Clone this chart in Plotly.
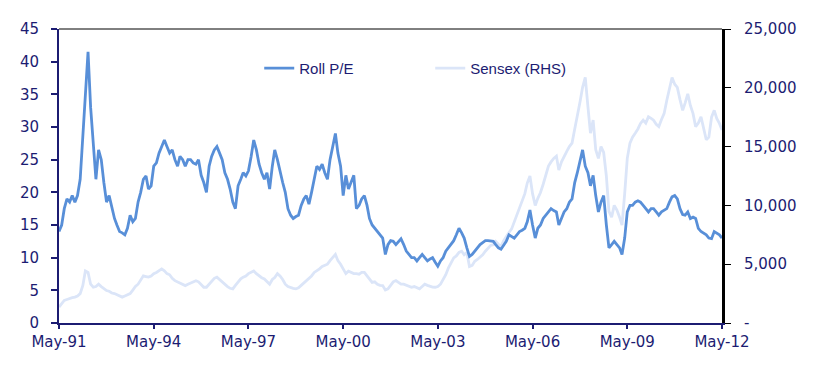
import pandas as pd
import plotly.graph_objects as go

# Monthly observations, May-1991 .. May-2012
start_month = "1991-05-01"
n_months = 253
dates = pd.date_range(start_month, periods=n_months, freq="MS")

roll_pe = [
    14, 15, 17.5, 19, 18.5, 19.5, 18.5, 19.5, 22, 29, 35, 41.5,
    33, 27, 22, 26.5, 25, 21.5, 18.5, 19.5, 17.5, 16, 15, 14,
    13.8, 13.5, 14.5, 16.5, 15.5, 16, 18.5, 20, 22, 22.5, 20.5, 21,
    24, 24.5, 26, 27, 28, 27, 26, 26.5, 25, 24, 25.5, 25,
    24, 25, 25, 24.5, 24.3, 25, 22.6, 21.5, 20, 24, 25.5, 26.5,
    27, 26, 25, 23, 22, 20.5, 18.5, 17.5, 21, 22, 23, 22.5,
    23.3, 25.5, 28, 26.5, 24.3, 23, 22, 23, 20.5, 24, 26.5, 25,
    23, 21.5, 20, 17.5, 16.5, 16, 16.3, 16.5, 18, 19, 19.5, 18.2,
    20, 22, 24, 23.5, 24.3, 23, 22, 25, 27, 29, 26, 24,
    19.5, 22.6, 20.5, 21.5, 22.6, 17.5, 18, 19, 19.5, 18, 16, 15,
    14.5, 14, 13.5, 13, 10.5, 12, 12.6, 12.5, 12, 12.5, 12.9, 12,
    11, 10.5, 10, 10, 9.5, 10, 10.5, 10, 9.5, 9.8, 10, 9.3,
    8.7, 9.5, 10, 11, 11.5, 12, 12.6, 13.5, 14.5, 13.8, 13, 11.5,
    10.2, 10.5, 11, 11.5, 12, 12.3, 12.6, 12.6, 12.5, 12.5, 12, 11.5,
    11.3, 12, 12.5, 13.5, 13.2, 13, 13.5, 14, 14.2, 14.5, 15.5, 17.3,
    15, 13, 14.5, 15, 16, 16.5, 17, 17.5, 17.2, 17, 15, 16,
    17, 17.5, 18.5, 19, 21.5, 23, 25, 26.5, 24, 23, 21, 22.6,
    19.5, 17, 18.5, 19.5, 15, 11.5, 12, 12.5, 12, 11.5, 10.5, 13,
    17, 18, 18, 18.5, 18.7, 18.5, 18, 17.5, 17, 17.5, 17.5, 17,
    16.5, 17, 17.3, 17.5, 18.5, 19.3, 19.5, 19, 17.5, 16.6, 16.5, 17,
    16, 16.2, 16, 14.5, 14, 13.8, 13.5, 13, 12.9, 14, 13.8, 13.5,
    13,
]

sensex = [
    1360, 1700, 1920, 2000, 2100, 2150, 2200, 2300, 2500, 3200, 4430, 4300,
    3300, 3040, 3100, 3300, 3100, 2900, 2760, 2700, 2550, 2500, 2400, 2300,
    2200, 2300, 2400, 2500, 2800, 3100, 3300, 3700, 4010, 3950, 3900, 4000,
    4200, 4300, 4450, 4600, 4430, 4200, 4100, 3800, 3600, 3500, 3350, 3250,
    3180, 3300, 3400, 3500, 3600, 3500, 3300, 3040, 3040, 3300, 3600, 3800,
    3900, 3700, 3450, 3300, 3100, 2950, 2900, 3200, 3500, 3750, 3900, 4000,
    4200, 4300, 4430, 4200, 4000, 3850, 3750, 3500, 3300, 3700, 3870, 4200,
    4000, 3700, 3300, 3100, 3000, 2950, 2900, 3000, 3200, 3400, 3600, 3800,
    4000, 4300, 4430, 4600, 4800, 4900, 5000, 5300, 5600, 5830, 5300, 5000,
    4600, 4200, 4400, 4300, 4200, 4200, 4150, 4300, 4300, 4000, 3700, 3450,
    3500, 3300, 3200, 3180, 2800, 2900, 3200, 3500, 3600, 3450, 3300, 3300,
    3200, 3100, 3040, 3100, 3000, 2900, 3100, 3300, 3200, 3100, 3050, 3040,
    3100, 3300, 3700, 4100, 4700, 5100, 5540, 5700, 6000, 6100, 5800, 6000,
    4800, 4900, 5250, 5400, 5600, 5800, 6100, 6380, 6600, 6660, 6940, 6700,
    6500, 7000, 7400, 7700, 8000, 8600, 9200, 9800, 10300, 11000, 11900, 12500,
    11000, 10000, 10600, 11100, 11800, 12600, 13350, 13700, 14000, 14190, 13000, 13700,
    14190, 14600, 15000, 15300, 16500, 17500, 18800, 20040, 20880, 18370, 16140, 17250,
    14740, 14000, 15000, 14500, 12500, 9500, 9000, 10000, 9600, 9000, 8330, 11000,
    14000, 15300, 15800, 16140, 16500, 16970, 17250, 17000, 17530, 17400, 17250, 16900,
    16700, 17300, 17800, 18920, 19800, 20880, 20300, 20040, 19000, 18080, 18700, 19490,
    18500, 17800, 16700, 17000, 17530, 16500, 15580, 15800, 17500, 18080, 17400, 16970,
    16420,
]

x_tick_vals = ["1991-05-01", "1994-05-01", "1997-05-01", "2000-05-01",
               "2003-05-01", "2006-05-01", "2009-05-01", "2012-05-01"]
x_tick_text = ["May-91", "May-94", "May-97", "May-00",
               "May-03", "May-06", "May-09", "May-12"]
pe_ticks = [0, 5, 10, 15, 20, 25, 30, 35, 40, 45]
sensex_ticks = [0, 5000, 10000, 15000, 20000, 25000]
sensex_tick_text = ["-", "5,000", "10,000", "15,000", "20,000", "25,000"]

NAVY = "#1c1c72"
PE_COLOR = "#588fd8"
SX_COLOR = "#dbe5f8"
FONT = "DejaVu Sans"

fig = go.Figure()
fig.add_trace(go.Scatter(
    x=dates, y=sensex, name="Sensex (RHS)", mode="lines",
    line=dict(color=SX_COLOR, width=2.8), yaxis="y", legendrank=2,
))
fig.add_trace(go.Scatter(
    x=dates, y=roll_pe, name="Roll P/E", mode="lines",
    line=dict(color=PE_COLOR, width=2.8), yaxis="y2", legendrank=1,
))

fig.update_layout(
    width=832, height=360,
    margin=dict(l=45, r=118, t=16, b=45),
    paper_bgcolor="white", plot_bgcolor="white",
    font=dict(family=FONT, size=15, color=NAVY),
    showlegend=True,
    legend=dict(
        orientation="h", x=0.302, y=0.866, xanchor="left", yanchor="middle",
        font=dict(family="Liberation Sans", size=15, color=NAVY),
        bgcolor="rgba(0,0,0,0)", entrywidth=126, entrywidthmode="pixels",
    ),
    xaxis=dict(
        type="date", range=[x_tick_vals[0], x_tick_vals[-1]],
        tickvals=x_tick_vals, ticktext=x_tick_text,
        showgrid=False, zeroline=False,
        showline=True, linecolor=NAVY, linewidth=2,
        ticks="outside", ticklen=4, tickcolor=NAVY, tickwidth=2,
        tickfont=dict(family=FONT, size=15, color=NAVY),
    ),
    yaxis=dict(
        side="right", range=[0, 25000],
        tickvals=sensex_ticks, ticktext=sensex_tick_text,
        showgrid=False, zeroline=False,
        showline=True, linecolor="black", linewidth=3,
        ticks="outside", ticklen=6, tickcolor="black", tickwidth=1,
        ticklabelstandoff=10,
        tickfont=dict(family=FONT, size=15, color=NAVY),
    ),
    yaxis2=dict(
        side="left", overlaying="y", range=[0, 45],
        tickvals=pe_ticks,
        showgrid=False, zeroline=False,
        showline=True, linecolor=NAVY, linewidth=2,
        ticks="outside", ticklen=6, tickcolor=NAVY, tickwidth=2,
        ticklabelstandoff=9,
        tickfont=dict(family=FONT, size=15, color=NAVY),
    ),
    shapes=[dict(type="line", xref="paper", yref="paper", x0=0, x1=1, y0=1, y1=1,
                 line=dict(color="black", width=1))],
)

fig.write_html("out.html")
